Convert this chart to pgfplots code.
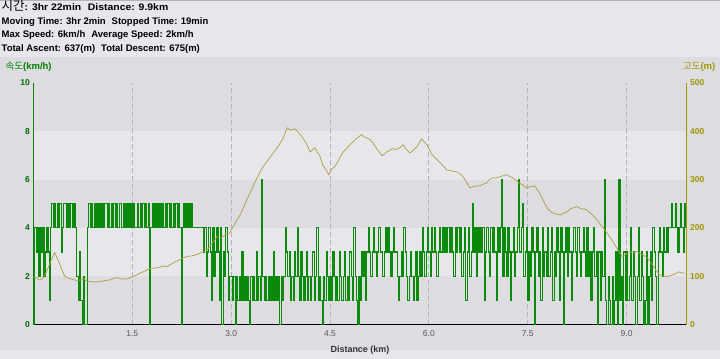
\documentclass[border=0pt]{standalone}
\usepackage{pgfplots}
\pgfplotsset{compat=1.18}
\usepackage{fontspec}
\setmainfont{Liberation Sans}
\newfontfamily\kr{Noto Sans CJK KR}
\definecolor{bgcol}{HTML}{DCDCE1}
\definecolor{hdrcol}{HTML}{E6E6EC}
\definecolor{lightband}{HTML}{E7E7EB}
\definecolor{gridcol}{HTML}{B4B4B8}
\definecolor{spd}{HTML}{0A8A0A}
\definecolor{elev}{HTML}{ACA040}
\definecolor{olive}{HTML}{A09800}
\definecolor{dgreen}{HTML}{008000}
\begin{document}
\begin{tikzpicture}[x=1pt,y=1pt]
\fill[bgcol] (0,0) rectangle (720,359);
\fill[hdrcol] (0,302) rectangle (720,359);
\fill[hdrcol] (0,0) rectangle (720,9);
\draw[gray!60, line width=1pt] (0,358.5) -- (720,358.5);
\node[anchor=base west, inner sep=0, font=\bfseries\fontsize{9.5}{10}\selectfont] at (1,348.5) {{\kr\mdseries\fontsize{12.5}{10}\selectfont 시간}\scalebox{1.1}[1]{: 3hr 22min\hspace{6pt}Distance: 9.9km}};
\node[anchor=base west, inner sep=0, font=\bfseries\fontsize{9.5}{10}\selectfont] at (1,334.5) {Moving Time: 3hr 2min\hspace{6pt}Stopped Time: 19min};
\node[anchor=base west, inner sep=0, font=\bfseries\fontsize{9.5}{10}\selectfont] at (1,321) {Max Speed: 6km/h\hspace{6pt}Average Speed: 2km/h};
\node[anchor=base west, inner sep=0, font=\bfseries\fontsize{9.5}{10}\selectfont] at (1,307) {Total Ascent: 637(m)\hspace{6pt}Total Descent: 675(m)};
\node[anchor=base west, inner sep=0, text=dgreen, font=\fontsize{9.5}{10}\selectfont] at (5,289) {{\kr 속도}\textbf{(km/h)}};
\node[anchor=base east, inner sep=0, text=olive, font=\fontsize{9.5}{10}\selectfont] at (716,289) {{\kr 고도}\textbf{(m)}};
\node[anchor=base, inner sep=0, font=\bfseries\fontsize{9}{10}\selectfont, text=black!80] at (360,6) {Distance (km)};
% background bands
\begin{axis}[at={(33pt,34pt)}, anchor=south west, width=654pt, height=242pt, scale only axis,
  xmin=0, xmax=9.91, ymin=0, ymax=10, hide axis]
\fill[lightband] (axis cs:0,2) rectangle (axis cs:9.91,4);
\fill[lightband] (axis cs:0,6) rectangle (axis cs:9.91,8);
\end{axis}
% speed
\begin{axis}[at={(33pt,34pt)}, anchor=south west, width=654pt, height=242pt, scale only axis,
  xmin=0, xmax=9.91, ymin=0, ymax=10,
  axis y line*=left, axis x line*=bottom,
  x axis line style={black, line width=1.3pt, -},
  y axis line style={dgreen, line width=1.3pt, -},
  major tick length=0pt,
  xtick={1.5,3,4.5,6,7.5,9}, ytick={0,2,4,6,8,10},
  xmajorgrids, major grid style={gridcol, line width=1pt, dash pattern=on 5pt off 3pt},
  /pgf/number format/assume math mode=true,
  xticklabel style={font=\fontsize{8.5}{10}\selectfont, text=black!65, yshift=-3pt, /pgf/number format/.cd, fixed, fixed zerofill, precision=1},
  yticklabel style={font=\bfseries\fontsize{8.5}{10}\selectfont, text=dgreen!85!black},
  ]
\addplot[const plot, spd, line width=1.1pt] coordinates {
(0.00,0)(0.02,4)(0.04,3)(0.06,4)(0.08,2)(0.10,4)(0.12,3)(0.14,4)(0.16,2)(0.18,3)
(0.20,4)(0.22,3)(0.24,1)(0.26,4)(0.28,5)(0.30,4)(0.32,5)(0.34,4)(0.36,5)(0.38,4)
(0.40,5)(0.42,3)(0.44,4)(0.46,5)(0.48,5)(0.50,4)(0.52,5)(0.54,4)(0.56,5)(0.58,5)
(0.60,4)(0.62,5)(0.64,4)(0.66,2)(0.68,1)(0.70,3)(0.72,1)(0.74,0)(0.76,2)(0.78,0)
(0.80,0)(0.82,4)(0.84,5)(0.86,4)(0.88,5)(0.90,4)(0.92,5)(0.94,4)(0.96,5)(0.98,4)
(1.00,5)(1.02,4)(1.04,5)(1.06,4)(1.08,5)(1.10,5)(1.12,4)(1.14,5)(1.16,4)(1.18,5)
(1.20,4)(1.22,5)(1.24,4)(1.26,5)(1.28,4)(1.30,5)(1.32,5)(1.34,4)(1.36,5)(1.38,4)
(1.40,5)(1.42,4)(1.44,5)(1.46,4)(1.48,5)(1.50,4)(1.52,5)(1.54,4)(1.56,4)(1.58,5)
(1.60,4)(1.62,5)(1.64,4)(1.66,5)(1.68,4)(1.70,5)(1.72,4)(1.74,5)(1.76,0)(1.78,4)
(1.80,5)(1.82,4)(1.84,5)(1.86,4)(1.88,5)(1.90,4)(1.92,5)(1.94,4)(1.96,5)(1.98,4)
(2.00,5)(2.02,4)(2.04,5)(2.06,4)(2.08,5)(2.10,4)(2.12,5)(2.14,4)(2.16,5)(2.18,4)
(2.20,5)(2.22,4)(2.24,0)(2.26,4)(2.28,5)(2.30,4)(2.32,5)(2.34,4)(2.36,5)(2.38,4)
(2.40,5)(2.42,4)(2.44,4)(2.46,4)(2.48,4)(2.50,4)(2.52,4)(2.54,4)(2.56,4)(2.58,3)
(2.60,4)(2.62,2)(2.64,3)(2.66,4)(2.68,3)(2.70,1)(2.72,4)(2.74,2)(2.76,3)(2.78,4)
(2.80,3)(2.82,1)(2.84,4)(2.86,0)(2.88,3)(2.90,2)(2.92,4)(2.94,3)(2.96,1)(2.98,2)
(3.00,2)(3.02,1)(3.04,2)(3.06,0)(3.08,2)(3.10,1)(3.12,2)(3.14,1)(3.16,3)(3.18,1)
(3.20,2)(3.22,1)(3.24,2)(3.26,1)(3.28,0)(3.30,2)(3.32,1)(3.34,2)(3.36,1)(3.38,3)
(3.40,1)(3.42,2)(3.44,1)(3.46,6)(3.48,2)(3.50,1)(3.52,2)(3.54,1)(3.56,2)(3.58,1)
(3.60,2)(3.62,1)(3.64,3)(3.66,1)(3.68,2)(3.70,1)(3.72,2)(3.74,0)(3.76,2)(3.78,1)
(3.80,2)(3.82,4)(3.84,3)(3.86,2)(3.88,3)(3.90,1)(3.92,2)(3.94,1)(3.96,3)(3.98,2)
(4.00,4)(4.02,2)(4.04,1)(4.06,3)(4.08,2)(4.10,1)(4.12,2)(4.14,3)(4.16,1)(4.18,2)
(4.20,1)(4.22,2)(4.24,3)(4.26,1)(4.28,2)(4.30,4)(4.32,1)(4.34,2)(4.36,1)(4.38,0)
(4.40,2)(4.42,1)(4.44,3)(4.46,2)(4.48,1)(4.50,2)(4.52,1)(4.54,3)(4.56,2)(4.58,1)
(4.60,2)(4.62,1)(4.64,3)(4.66,2)(4.68,1)(4.70,2)(4.72,3)(4.74,1)(4.76,2)(4.78,1)
(4.80,3)(4.82,2)(4.84,1)(4.86,4)(4.88,2)(4.90,1)(4.92,0)(4.94,2)(4.96,1)(4.98,3)
(5.00,2)(5.02,3)(5.04,1)(5.06,3)(5.08,4)(5.10,3)(5.12,2)(5.14,3)(5.16,4)(5.18,3)
(5.20,2)(5.22,3)(5.24,4)(5.26,3)(5.28,3)(5.30,2)(5.32,3)(5.34,4)(5.36,3)(5.38,4)
(5.40,3)(5.42,2)(5.44,3)(5.46,4)(5.48,3)(5.50,3)(5.52,2)(5.54,1)(5.56,2)(5.58,3)
(5.60,2)(5.62,4)(5.64,3)(5.66,2)(5.68,1)(5.70,2)(5.72,3)(5.74,2)(5.76,1)(5.78,2)
(5.80,3)(5.82,1)(5.84,2)(5.86,3)(5.88,2)(5.90,4)(5.92,3)(5.94,2)(5.96,3)(5.98,4)
(6.00,3)(6.02,2)(6.04,4)(6.06,3)(6.08,4)(6.10,3)(6.12,2)(6.14,3)(6.16,4)(6.18,3)
(6.20,4)(6.22,3)(6.24,4)(6.26,3)(6.28,4)(6.30,4)(6.32,3)(6.34,4)(6.36,3)(6.38,2)
(6.40,4)(6.42,3)(6.44,4)(6.46,3)(6.48,4)(6.50,2)(6.52,3)(6.54,4)(6.56,1)(6.58,3)
(6.60,4)(6.62,2)(6.64,3)(6.66,5)(6.68,3)(6.70,4)(6.72,2)(6.74,4)(6.76,3)(6.78,4)
(6.80,3)(6.82,4)(6.84,1)(6.86,3)(6.88,4)(6.90,3)(6.92,2)(6.94,4)(6.96,3)(6.98,4)
(7.00,3)(7.02,1)(7.04,4)(7.06,3)(7.08,4)(7.10,6)(7.12,2)(7.14,4)(7.16,3)(7.18,2)
(7.20,4)(7.22,3)(7.24,1)(7.26,3)(7.28,4)(7.30,2)(7.32,3)(7.34,4)(7.36,6)(7.38,3)
(7.40,4)(7.42,5)(7.44,2)(7.46,3)(7.48,4)(7.50,1)(7.52,3)(7.54,2)(7.56,4)(7.58,3)
(7.60,0)(7.62,3)(7.64,4)(7.66,2)(7.68,3)(7.70,1)(7.72,4)(7.74,2)(7.76,3)(7.78,2)
(7.80,4)(7.82,2)(7.84,3)(7.86,4)(7.88,1)(7.90,3)(7.92,2)(7.94,4)(7.96,3)(7.98,1)
(8.00,4)(8.02,3)(8.04,0)(8.06,3)(8.08,4)(8.10,2)(8.12,4)(8.14,3)(8.16,1)(8.18,3)
(8.20,4)(8.22,3)(8.24,2)(8.26,4)(8.28,3)(8.30,2)(8.32,3)(8.34,4)(8.36,3)(8.38,2)
(8.40,4)(8.42,2)(8.44,3)(8.46,1)(8.48,3)(8.50,4)(8.52,2)(8.54,3)(8.56,0)(8.58,3)
(8.60,1)(8.62,3)(8.64,2)(8.66,6)(8.68,1)(8.70,0)(8.72,2)(8.74,1)(8.76,0)(8.78,2)
(8.80,0)(8.82,1)(8.84,3)(8.86,0)(8.88,6)(8.90,1)(8.92,2)(8.94,0)(8.96,3)(8.98,1)
(9.00,3)(9.02,1)(9.04,2)(9.06,4)(9.08,1)(9.10,3)(9.12,2)(9.14,0)(9.16,2)(9.18,4)
(9.20,1)(9.22,3)(9.24,2)(9.26,0)(9.28,1)(9.30,3)(9.32,0)(9.34,2)(9.36,3)(9.38,1)
(9.40,4)(9.42,3)(9.44,2)(9.46,0)(9.48,3)(9.50,4)(9.52,3)(9.54,2)(9.56,4)(9.58,3)
(9.60,4)(9.62,3)(9.64,4)(9.66,4)(9.68,5)(9.70,4)(9.72,4)(9.74,5)(9.76,4)(9.78,3)
(9.80,4)(9.82,5)(9.84,4)(9.86,3)(9.88,5)(9.90,4)
};
\end{axis}
% elevation
\begin{axis}[at={(33pt,34pt)}, anchor=south west, width=654pt, height=242pt, scale only axis,
  xmin=0, xmax=9.91, ymin=0, ymax=500,
  axis y line*=right, axis x line=none,
  y axis line style={olive, line width=1.3pt, -},
  major tick length=0pt, ytick={0,100,200,300,400,500},
  /pgf/number format/assume math mode=true,
  yticklabel style={font=\bfseries\fontsize{8.5}{10}\selectfont, text=olive},
  ]
\addplot[elev, line width=0.7pt] coordinates {
(0,99)(0.05,96)(0.1,92)(0.15,97)(0.2,110)(0.26,130)(0.32,149)(0.36,138)(0.4,125)(0.44,110)(0.48,99)(0.53,96)(0.58,94)(0.63,92)(0.67,91)(0.72,93)(0.76,95)(0.81,90)(0.86,89)(0.94,88)(1.02,89)(1.08,91)(1.15,92)(1.2,95)(1.27,97)(1.35,94)(1.44,95)(1.52,100)(1.6,105)(1.68,110)(1.77,116)(1.84,117)(1.9,118)(1.97,121)(2.03,120)(2.1,126)(2.15,130)(2.22,134)(2.27,138)(2.34,141)(2.4,142)(2.48,145)(2.56,150)(2.64,155)(2.72,170)(2.79,182)(2.85,180)(2.9,185)(2.98,190)(3.06,210)(3.14,228)(3.21,250)(3.29,273)(3.38,300)(3.48,326)(3.56,340)(3.64,355)(3.72,370)(3.79,386)(3.85,407)(3.9,402)(3.97,405)(4.03,396)(4.09,386)(4.15,372)(4.20,357)(4.27,366)(4.31,356)(4.35,347)(4.39,330)(4.44,320)(4.48,310)(4.53,322)(4.57,326)(4.61,335)(4.66,348)(4.70,357)(4.75,364)(4.80,372)(4.85,378)(4.91,386)(4.98,393)(5.02,388)(5.06,386)(5.11,382)(5.15,376)(5.22,362)(5.29,349)(5.36,357)(5.40,360)(5.45,364)(5.50,362)(5.56,366)(5.61,372)(5.66,362)(5.71,355)(5.76,360)(5.82,368)(5.89,384)(5.93,378)(5.97,372)(6.05,351)(6.11,343)(6.17,335)(6.22,328)(6.27,320)(6.34,318)(6.42,316)(6.47,312)(6.52,306)(6.57,295)(6.62,283)(6.69,286)(6.77,287)(6.82,290)(6.88,293)(6.92,300)(6.97,304)(7.02,303)(7.08,306)(7.13,308)(7.18,310)(7.23,306)(7.27,304)(7.35,295)(7.42,289)(7.48,283)(7.54,285)(7.61,287)(7.66,276)(7.71,264)(7.76,250)(7.80,240)(7.84,235)(7.88,231)(7.95,228)(8.01,227)(8.05,231)(8.09,233)(8.16,240)(8.24,244)(8.31,240)(8.39,238)(8.47,228)(8.55,217)(8.61,206)(8.67,196)(8.73,184)(8.79,172)(8.86,156)(8.94,140)(9.00,146)(9.05,149)(9.10,148)(9.15,151)(9.22,146)(9.30,140)(9.35,132)(9.39,124)(9.45,112)(9.50,103)(9.55,101)(9.61,99)(9.66,101)(9.70,103)(9.75,106)(9.80,109)(9.85,106)(9.88,107)
};
\end{axis}
\end{tikzpicture}
\end{document}
